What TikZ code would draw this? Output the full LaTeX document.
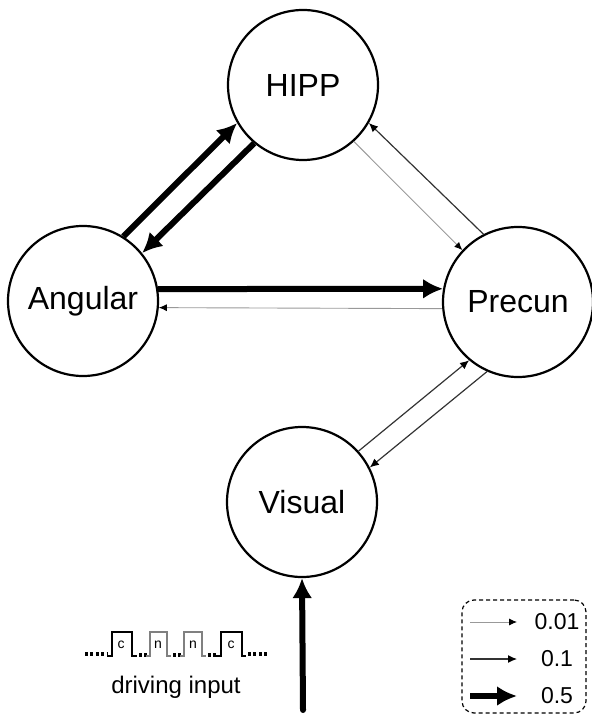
\documentclass[tikz,border=0pt]{standalone}
\usepackage{fontspec}
\setmainfont{Liberation Sans}
\usetikzlibrary{arrows.meta}

\begin{document}
\begin{tikzpicture}
    [
        x=0.5pt, y=-0.5pt,
        region/.style = {draw, shape=circle, minimum size=75pt, inner sep=0pt, line width=1.1pt, font=\fontsize{16}{19}\selectfont},
        weak/.style = {draw=black!40, line width=0.45pt, -{Latex[length=4pt, width=3.5pt, color=black]}},
        medium/.style = {draw=black!80, line width=0.6pt, -{Latex[length=4.5pt, width=4pt, color=black]}},
        strong/.style = {draw=black, line width=3pt, -{Latex[length=10pt, width=10pt]}},
        pulse/.style = {line width=0.9pt},
        gap/.style = {line width=1.6pt, dash pattern=on 1.4pt off 1.3pt},
        tag/.style = {inner sep=0pt, font=\fontsize{7}{8}\selectfont},
        weight/.style = {inner sep=0pt, font=\fontsize{11.5}{13}\selectfont},
    ]
    \useasboundingbox (0,0) rectangle (591,715);

    \node[region] (hipp)    at (303,85)  {HIPP};
    \node[region] (angular) at (83,301)  {Angular};
    \node[region] (precun)  at (518,302) {Precun};
    \node[region] (visual)  at (302,502) {Visual};

    \draw[strong] (angular.58) -- (hipp.210);
    \draw[strong] (hipp.230) -- (angular.39);
    \draw[strong] (angular.9) -- (precun.170);
    \draw[weak]   (precun.185) -- (angular.355);
    \draw[weak]   (hipp.312) -- (precun.137);
    \draw[medium] (precun.117) -- (hipp.330);
    \draw[medium] (visual.42) -- (precun.230);
    \draw[medium] (precun.246) -- (visual.27);

    \coordinate (drive) at (303,710);
    \draw[strong, line cap=round] (drive) -- (visual.south);

    % pulse train
    \draw[gap] (85,654) -- (107,654);
    \draw[pulse] (107,656) -- (112,656) -- (112,632) -- (132,632) -- (132,656) -- (137,656);
    \draw[gap] (139,655) -- (148,655);
    \draw[pulse, black!50] (146,656) -- (150,656) -- (150,632) -- (167,632) -- (167,656) -- (171,656);
    \draw[gap] (173,655) -- (182,655);
    \draw[pulse, black!50] (180,656) -- (184,656) -- (184,632) -- (202,632) -- (202,656) -- (206,656);
    \draw[gap] (208,655) -- (217,655);
    \draw[pulse] (216,656) -- (221,656) -- (221,632) -- (242,632) -- (242,656) -- (246,656);
    \draw[gap] (248,654) -- (268,654);
    \node[tag] (c1) at (121,645) {c};
    \node[tag] (n1) at (158,645) {n};
    \node[tag] (n2) at (193,645) {n};
    \node[tag] (c2) at (231,645) {c};
    \node[font=\fontsize{12}{14}\selectfont] (input) at (176,687) {driving input};

    % legend
    \node[draw, dash pattern=on 2pt off 1.5pt, rounded corners=6pt, line width=0.6pt,
          minimum width=62pt, minimum height=56.5pt] (legend) at (524,656.5) {};
    \coordinate (k1a) at (470,622);
    \coordinate (k1b) at (517,622);
    \coordinate (k2a) at (470,659);
    \coordinate (k2b) at (517,659);
    \coordinate (k3a) at (470,696);
    \coordinate (k3b) at (517,696);
    \draw[weak]   (k1a) -- (k1b);
    \draw[medium] (k2a) -- (k2b);
    \draw[strong] (k3a) -- (k3b);
    \node[weight] (w1) at (557,622) {0.01};
    \node[weight] (w2) at (557,659) {0.1};
    \node[weight] (w3) at (557,696) {0.5};
\end{tikzpicture}
\end{document}
